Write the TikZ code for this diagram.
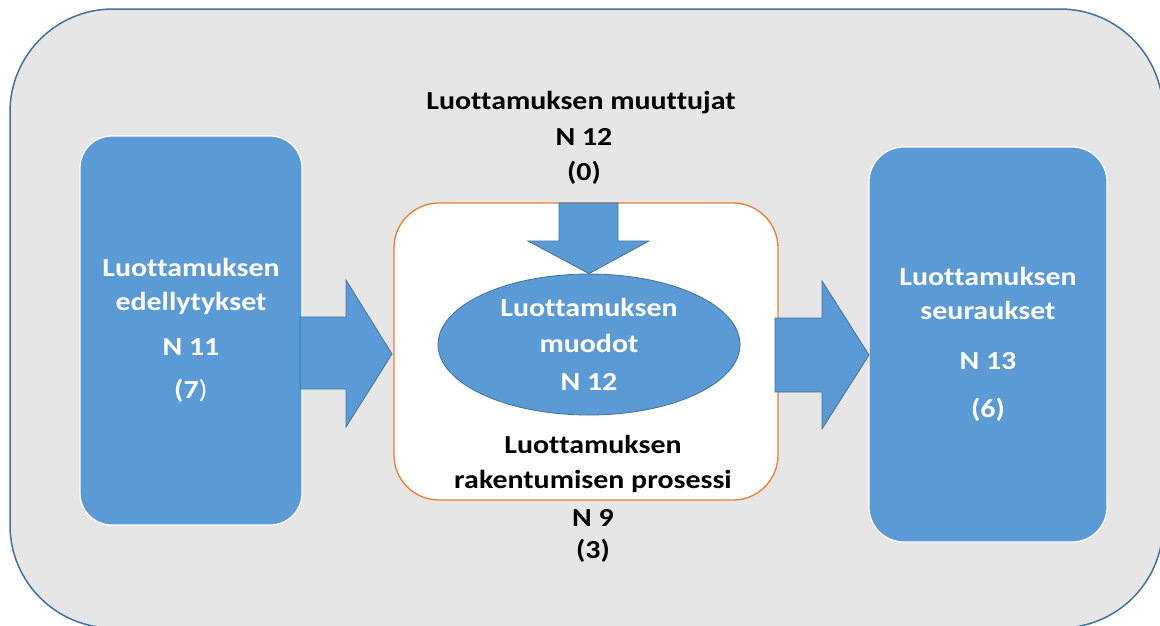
\documentclass[tikz,border=0pt]{standalone}
\usepackage{fontspec}
\setmainfont[FakeStretch=1.15, Ligatures=NoCommon]{Carlito}
\usetikzlibrary{shapes.geometric}
\definecolor{bggrey}{HTML}{E6E6E6}
\definecolor{frameblue}{HTML}{41719C}
\definecolor{fillblue}{HTML}{5B9BD5}
\definecolor{orng}{HTML}{ED7D31}
\tikzset{
  txtfont/.style={font=\fontsize{26}{34}\selectfont\bfseries},
  lbl/.style={txtfont, inner sep=0pt, anchor=base, text=black},
  outerbox/.style={draw=frameblue, line width=1.5pt, fill=bggrey, rounded corners=103pt},
  bluebox/.style={draw=white, line width=1.2pt, fill=fillblue, text=white, align=center, txtfont, inner sep=0pt},
  procbox/.style={draw=orng, line width=1.3pt, fill=white, rounded corners=45pt},
  formsell/.style={ellipse, draw=frameblue, line width=0.8pt, fill=fillblue, text=white, align=center, inner sep=0pt, font=\fontsize{26}{36}\selectfont\bfseries},
  barrow/.style={fill=fillblue, draw=frameblue, line width=0.8pt, line join=miter}
}
\begin{document}
\begin{tikzpicture}[x=1pt,y=-1pt]
\useasboundingbox (0,0) rectangle (1160,625);
\clip (0,0) rectangle (1160,625);
\fill[white] (0,0) rectangle (1160,625);
\node[outerbox, minimum width=1153pt, minimum height=619pt] (outer) at (586.5,318.5) {};
\node[bluebox, rounded corners=32pt, minimum width=222pt, minimum height=389pt] (pre) at (191,330.5)
  {Luottamuksen\\edellytykset\\[11pt]N 11\\[9pt](7{\mdseries)}};
\node[bluebox, rounded corners=35pt, minimum width=238pt, minimum height=395pt] (cons) at (988,344.5)
  {Luottamuksen\\seuraukset\\[16pt]N 13\\[14pt](6)};
\node[procbox, minimum width=384pt, minimum height=297pt] (proc) at (586,351.5) {};
\node[formsell, minimum width=302pt, minimum height=141pt] (forms) at (589,344.5)
  {Luottamuksen\\muodot\\[2pt]N 12};
% block arrows
\draw[barrow] (559,203) -- (618,203) -- (618,241) -- (649,241) -- (forms.north) -- (528,241) -- (559,241) -- cycle;
\draw[barrow] (300,317) -- (346,317) -- (346,280) -- (392,354) -- (346,427) -- (346,389) -- (300,389) -- cycle;
\draw[barrow] (775,318) -- (822,318) -- (822,281) -- (869,355) -- (822,429) -- (822,392) -- (775,392) -- cycle;
% free labels
\node[lbl] (var1) at (581,109) {Luottamuksen muuttujat};
\node[lbl] (var2) at (584,145) {N 12};
\node[lbl] (var3) at (584,180) {(0)};
\node[lbl] (proc1) at (593,453) {Luottamuksen};
\node[lbl] (proc2) at (593,488) {rakentumisen prosessi};
\node[lbl] (proc3) at (593,526) {N 9};
\node[lbl] (proc4) at (593,558) {(3)};
\end{tikzpicture}
\end{document}
